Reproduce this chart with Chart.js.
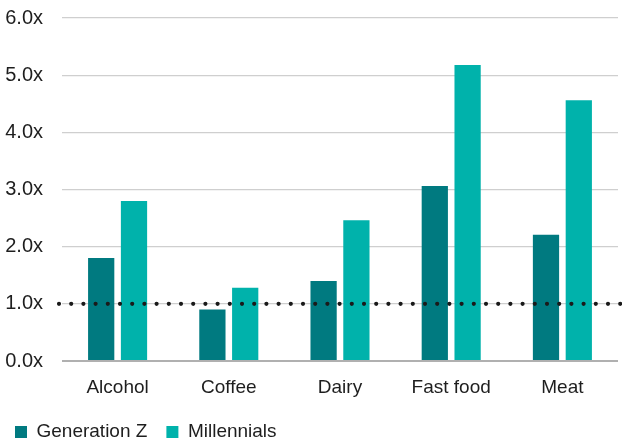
<!DOCTYPE html>
<html>
<head>
<meta charset="utf-8">
<script src="https://cdn.jsdelivr.net/npm/chart.js@4"></script>
<style>
  html, body { margin: 0; padding: 0; background: #ffffff; }
  #wrap { width: 622px; height: 443px; position: relative; }
</style>
</head>
<body>
<div id="wrap"><canvas id="c" width="622" height="443"></canvas></div>
<script>
const categories = ['Alcohol', 'Coffee', 'Dairy', 'Fast food', 'Meat'];
const seriesNames = ['Generation Z', 'Millennials'];
const genZ = [1.8, 0.9, 1.4, 3.06, 2.21];
const millennials = [2.8, 1.28, 2.46, 5.18, 4.56];
const yTickLabels = ['0.0x', '1.0x', '2.0x', '3.0x', '4.0x', '5.0x', '6.0x'];
const referenceLevel = 1.0;

const FONT = "'Liberation Sans', Arial, Helvetica, sans-serif";
const TEXT = '#1e1e1e';

const dottedLine = {
  id: 'dottedLine',
  afterDatasetsDraw(chart) {
    const y = chart.scales.y.getPixelForValue(referenceLevel);
    const ctx = chart.ctx;
    ctx.save();
    ctx.strokeStyle = '#1a1a1a';
    ctx.lineWidth = 4.2;
    ctx.lineCap = 'round';
    ctx.setLineDash([0, 12.2]);
    ctx.beginPath();
    ctx.moveTo(chart.chartArea.left - 3, y);
    ctx.lineTo(chart.chartArea.right + 3, y);
    ctx.stroke();
    ctx.restore();
  }
};

new Chart(document.getElementById('c'), {
  type: 'bar',
  data: {
    labels: categories,
    datasets: [
      { label: seriesNames[0], data: genZ, backgroundColor: '#007a80' },
      { label: seriesNames[1], data: millennials, backgroundColor: '#00b2ab' }
    ]
  },
  options: {
    responsive: false,
    animation: false,
    devicePixelRatio: 1,
    layout: { padding: { left: -4, right: 4, top: 18, bottom: -8.5 } },
    datasets: { bar: { categoryPercentage: 0.59, barPercentage: 0.8 } },
    plugins: {
      legend: {
        position: 'bottom',
        align: 'start',
        labels: {
          boxWidth: 12,
          boxHeight: 12,
          padding: 19,
          color: TEXT,
          font: { family: FONT, size: 19 }
        }
      },
      tooltip: { enabled: false }
    },
    scales: {
      x: {
        grid: { display: false, drawTicks: false },
        border: { display: false },
        ticks: { color: TEXT, padding: 15, font: { family: FONT, size: 19 } },
        afterFit(scale) { scale.height = 42.5; }
      },
      y: {
        min: 0,
        max: 6,
        border: { display: false },
        grid: {
          drawTicks: false,
          color: (ctx) => ctx.tick && ctx.tick.value === 0 ? '#b0b0b0' : '#cfcfcf',
          lineWidth: (ctx) => ctx.tick && ctx.tick.value === 0 ? 2 : 1.3
        },
        ticks: {
          stepSize: 1,
          padding: 19,
          color: TEXT,
          font: { family: FONT, size: 20 },
          callback: (v, i) => yTickLabels[i]
        },
        afterFit(scale) { scale.width = 66; scale.paddingTop = 0; }
      }
    }
  },
  plugins: [dottedLine]
});
</script>
</body>
</html>
